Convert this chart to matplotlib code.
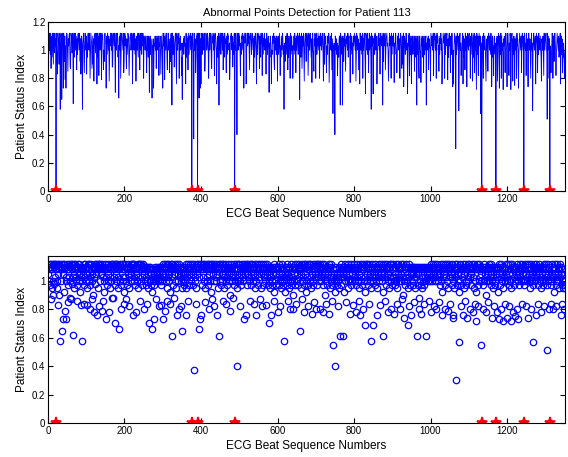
import numpy as np
import matplotlib
matplotlib.use("Agg")
import matplotlib.pyplot as plt
from matplotlib.ticker import FuncFormatter

# ---------------- data (status index in hundredths) ----------------
band_values = [
    105, 110, 100, 112, 108, 97, 112, 103, 110, 95, 108, 112, 100, 105, 112, 110, 98, 112, 103, 108, 110, 112, 100, 95, 110, 112, 105, 108, 90, 112, 110, 103, 100, 112, 108, 97, 110, 112, 105, 100, 112, 108, 92, 110, 112, 103, 108, 100, 112, 110,
    97, 112, 108, 103, 110, 112, 100, 105, 87, 112, 110, 108, 98, 112, 103, 110, 105, 112, 95, 108, 112, 100, 110, 103, 112, 108, 97, 110, 112, 105, 100, 112, 110, 92, 108, 112, 103, 110, 100, 112, 105, 108, 112, 97, 110, 103, 112, 108, 100, 110,
    112, 105, 95, 110, 112, 108, 100, 112, 103, 110, 97, 112, 108, 105, 112, 100, 110, 90, 108, 112, 103, 110, 112, 98, 105, 112, 110, 100, 108, 112, 95, 110, 103, 112, 108, 100, 112, 110, 105, 97, 112, 108, 110, 103, 112, 100, 92, 110, 112, 108,
    103, 112, 110, 97, 108, 112, 105, 100, 110, 112, 95, 108, 103, 112, 110, 100, 112, 105, 88, 110, 112, 108, 103, 112, 97, 110, 105, 112, 100, 108, 112, 110, 95, 103, 112, 108, 110, 100, 112, 105, 97, 110, 112, 108, 103, 100, 112, 110, 92, 108,
    112, 103, 110, 100, 112, 108, 97, 105, 112, 110, 103, 112, 95, 108, 110, 112, 100, 105, 112, 108, 90, 110, 112, 103, 100, 112, 110, 97, 108, 112, 105, 110, 100, 112, 103, 95, 112, 108, 110, 105, 112, 100, 108, 112, 97, 110, 103, 112, 108, 100,
    110, 105, 108, 100, 110, 103, 97, 108, 110, 100, 105, 95, 110, 108, 103, 100, 110, 97, 108, 105, 92, 110, 103, 100, 108, 110, 97, 105, 103, 110, 100, 108, 95, 105, 110, 103, 100, 108, 110, 88, 105, 103, 110, 100, 108, 97, 110, 105, 100, 108,
    112, 103, 110, 108, 97, 112, 105, 100, 110, 112, 95, 108, 103, 112, 110, 100, 105, 112, 108, 92, 110, 112, 103, 100, 112, 108, 97, 110, 105, 112, 100, 108, 112, 110, 95, 103, 112, 108, 100, 110, 105, 112, 97, 108, 103, 110, 100, 105, 108, 95,
    110, 105, 100, 108, 97, 110, 103, 105, 100, 108, 112, 95, 110, 103, 108, 100, 112, 105, 97, 110, 108, 112, 103, 100, 110, 87, 112, 108, 105, 97, 110, 112, 100, 103, 108, 112, 95, 110, 105, 112, 100, 108, 112, 103, 97, 110, 112, 105, 108, 100,
    112, 110, 97, 108, 112, 103, 100, 110, 112, 105, 95, 108, 112, 110, 100, 103, 112, 108, 97, 110, 105, 112, 100, 108, 112, 110, 92, 103, 112, 108, 105, 110, 100, 112, 97, 108, 110, 112, 103, 100, 112, 105, 110, 95, 108, 112, 103, 110, 100, 112,
    108, 97, 110, 112, 105, 100, 112, 108, 103, 110, 95, 112, 105, 108, 100, 112, 110, 97, 103, 112, 108, 110, 100, 105, 112, 90, 110, 108, 112, 103, 100, 110, 112, 105, 97, 108, 112, 110, 103, 100, 112, 108, 95, 110, 105, 112, 100, 108, 112, 103,
    110, 100, 112, 105, 97, 110, 108, 112, 103, 100, 110, 95, 112, 108, 105, 110, 112, 100, 97, 108, 112, 103, 110, 105, 112, 100, 92, 110, 108, 112, 103, 97, 110, 112, 105, 100, 108, 112, 110, 95, 103, 112, 108, 100, 110, 105, 112, 97, 108, 110,
    112, 103, 100, 110, 108, 95, 112, 105, 110, 100, 112, 97, 108, 103, 110, 112, 100, 105, 108, 88, 110, 112, 103, 97, 108, 110, 100, 112, 105, 95, 110, 108, 103, 112, 100, 97, 110, 105, 108, 112, 92, 103, 110, 100, 108, 105, 97, 110, 103, 100,
    108, 110, 97, 105, 112, 100, 108, 103, 95, 110, 105, 100, 112, 108, 97, 103, 110, 100, 105, 92, 108, 110, 103, 97, 112, 105, 100, 108, 95, 110, 103, 100, 108, 112, 97, 105, 110, 100, 103, 108, 90, 110, 105, 100, 112, 97, 108, 103, 110, 100,
    105, 112, 108, 97, 110, 103, 112, 100, 108, 110, 95, 105, 112, 108, 100, 110, 103, 112, 97, 108, 105, 110, 112, 100, 92, 108, 112, 103, 110, 105, 97, 112, 108, 100, 110, 112, 103, 95, 108, 110, 105, 112, 100, 97, 110, 108, 103, 112, 105, 100,
    110, 112, 97, 108, 103, 112, 105, 100, 110, 95, 108, 112, 103, 110, 100, 105, 112, 108, 97, 110, 103, 112, 90, 108, 105, 110, 100, 112, 103, 97, 110, 108, 105, 112, 100, 95, 108, 110, 103, 100, 112, 105, 97, 108, 110, 103, 100, 105, 92, 108,
    110, 103, 100, 108, 97, 105, 110, 100, 103, 95, 108, 110, 105, 100, 112, 97, 108, 103, 110, 100, 105, 108, 92, 110, 103, 112, 100, 97, 108, 105, 110, 103, 100, 112, 95, 108, 110, 105, 100, 103, 112, 97, 110, 108, 100, 105, 88, 110, 103, 108,
    112, 105, 100, 110, 108, 97, 112, 103, 110, 100, 108, 112, 95, 105, 110, 112, 103, 100, 108, 110, 97, 112, 105, 108, 100, 110, 112, 103, 92, 108, 112, 110, 100, 105, 112, 97, 108, 110, 103, 112, 100, 105, 110, 95, 108, 112, 103, 110, 100, 112,
    108, 105, 110, 97, 112, 103, 100, 110, 108, 112, 95, 105, 110, 103, 112, 100, 108, 97, 110, 112, 105, 103, 110, 100, 108, 112, 92, 110, 105, 103, 112, 100, 97, 108, 110, 112, 103, 105, 100, 110, 95, 108, 112, 103, 110, 100, 105, 112, 97, 108,
    110, 103, 112, 100, 108, 105, 97, 110, 112, 103, 100, 108, 95, 110, 105, 112, 100, 103, 108, 97, 110, 112, 105, 100, 108, 110, 103, 90, 112, 105, 100, 110, 108, 97, 103, 112, 110, 100, 105, 108, 95, 110, 103, 112, 100, 108, 97, 105, 110, 103,
    100, 108, 110, 97, 105, 103, 110, 100, 108, 95, 105, 110, 103, 100, 108, 97, 110, 105, 88, 103, 108, 110, 100, 97, 105, 108, 103, 110, 95, 100, 108, 105, 110, 97, 103, 100, 108, 110, 92, 105, 103, 108, 100, 110, 97, 105, 108, 103, 100, 110,
    112, 108, 103, 110, 100, 105, 112, 97, 110, 108, 112, 103, 100, 110, 95, 108, 112, 105, 110, 100, 103, 112, 108, 97, 110, 105, 112, 100, 108, 110, 92, 103, 112, 108, 105, 110, 100, 112, 97, 108, 103, 110, 112, 100, 105, 108, 95, 110, 112, 103,
    108, 100, 110, 105, 97, 112, 103, 108, 100, 110, 95, 105, 112, 108, 103, 100, 110, 97, 108, 112, 105, 100, 110, 103, 92, 108, 112, 100, 105, 110, 97, 103, 108, 112, 100, 110, 105, 95, 108, 103, 112, 100, 110, 97, 105, 108, 112, 103, 100, 110,
    112, 103, 108, 100, 110, 97, 105, 112, 108, 100, 103, 110, 95, 112, 105, 108, 100, 110, 92, 103, 112, 108, 97, 110, 105, 100, 112, 108, 103, 110, 95, 100, 105, 112, 108, 110, 97, 103, 112, 100, 108, 110, 105, 90, 112, 103, 108, 100, 110, 97,
    105, 112, 108, 100, 110, 103, 97, 112, 105, 108, 100, 110, 95, 103, 112, 108, 110, 100, 97, 105, 112, 108, 103, 110, 100, 92, 108, 112, 105, 100, 110, 97, 103, 112, 108, 110, 100, 105, 95, 112, 108, 103, 110, 100, 97, 108, 112, 105, 100, 110,
    103, 112, 108, 97, 110, 105, 100, 112, 108, 103, 95, 110, 112, 105, 100, 108, 97, 110, 103, 112, 108, 100, 105, 110, 92, 112, 103, 108, 100, 110, 97, 105, 112, 108, 103, 100, 110, 95, 108, 112, 105, 100, 110, 103, 97, 112, 108, 100, 105, 110,
    112, 103, 100, 108, 97, 110, 112, 105, 100, 108, 95, 110, 103, 112, 100, 105, 108, 97, 110, 112, 103, 100, 108, 110, 90, 105, 112, 108, 103, 100, 110, 97, 112, 105, 108, 100, 110, 103, 95, 112, 108, 105, 100, 110, 97, 103, 112, 108, 100, 105,
    110, 112, 103, 97, 108, 112, 100, 105, 110, 95, 108, 112, 103, 100, 110, 97, 105, 112, 108, 100, 103, 110, 92, 108, 112, 105, 100, 110, 97, 103, 112, 108, 105, 100, 110, 95, 108, 103, 112, 100, 105, 110, 97, 108, 103, 100, 95, 105, 97, 100,
    95, 100,
]

# deep dips (beat number, status in hundredths)
dip_beats = [25, 32, 36, 40, 45, 47, 66, 86, 90, 101, 110, 120, 128, 140, 152, 160, 176, 185, 190,
             221, 230, 250, 265, 272, 276, 290, 300, 305, 324, 336, 349, 351, 360, 381, 395, 398,
             400, 420, 441, 447, 475, 494, 512, 518, 545, 560, 578, 584, 600, 617, 640, 658, 670,
             690, 700, 720, 735, 745, 750, 764, 770, 790, 805, 815, 830, 845, 850, 860, 875, 890,
             905, 920, 930, 940, 950, 964, 975, 989, 1000, 1015, 1030, 1045, 1058, 1066, 1074,
             1085, 1095, 1110, 1120, 1131, 1145, 1160, 1180, 1190, 1200, 1210, 1220, 1230, 1255,
             1267, 1275, 1290, 1305, 1320, 1340, 1350]
dip_values = [83, 58, 65, 73, 79, 73, 62, 83, 58, 83, 80, 78, 76, 79, 73, 78, 70, 66, 80,
              76, 78, 80, 70, 66, 73, 82, 73, 79, 61, 76, 82, 65, 76, 37, 66, 73,
              76, 80, 76, 61, 79, 40, 73, 76, 76, 82, 70, 76, 78, 58, 80, 65, 78,
              77, 80, 78, 77, 55, 40, 61, 61, 77, 78, 76, 69, 58, 69, 76, 61, 78,
              77, 80, 74, 69, 76, 61, 77, 61, 78, 80, 76, 79, 74, 30, 57,
              76, 74, 78, 72, 55, 78, 74, 73, 72, 74, 72, 75, 73, 74,
              57, 76, 78, 51, 80, 76, 80]

# shallow dips (beat number, status in hundredths)
shallow_beats = [8, 14, 52, 58, 75, 95, 115, 133, 145, 168, 198, 205, 212, 240, 258, 283, 295, 312,
                 318, 330, 343, 366, 386, 410, 428, 435, 458, 466, 483, 503, 527, 538, 553, 570,
                 592, 607, 627, 633, 648, 664, 680, 695, 710, 728, 742, 757, 778, 797, 812, 823,
                 838, 868, 882, 897, 912, 925, 945, 958, 970, 982, 995, 1008, 1022, 1037, 1052,
                 1060, 1080, 1090, 1104, 1115, 1125, 1138, 1150, 1165, 1175, 1185, 1195, 1205,
                 1215, 1225, 1238, 1250, 1262, 1280, 1296, 1310, 1315, 1328, 1345]
shallow_values = [87, 90, 85, 88, 86, 84, 87, 82, 86, 88, 84, 87, 82, 86, 84, 87, 83, 86,
                  84, 88, 80, 86, 84, 85, 87, 82, 86, 84, 88, 82, 86, 84, 87, 83,
                  86, 82, 86, 80, 84, 87, 82, 85, 80, 84, 86, 82, 85, 83, 86, 80,
                  84, 83, 86, 80, 84, 87, 82, 85, 80, 84, 86, 82, 85, 80, 84,
                  76, 82, 86, 80, 84, 82, 80, 85, 82, 78, 80, 84, 82,
                  78, 80, 84, 82, 80, 84, 82, 80, 84, 82, 84]

# beats detected as abnormal (status index 0)
abnormal_beats = [21, 376, 391, 488, 1134, 1171, 1244, 1312]

title_text = "Abnormal Points Detection for Patient 113"
x_label = "ECG Beat Sequence Numbers"
y_label = "Patient Status Index"
x_ticks = [0, 200, 400, 600, 800, 1000, 1200]
y_ticks = [0, 0.2, 0.4, 0.6, 0.8, 1.0, 1.2]

# ---------------- assemble series ----------------
status = np.array(band_values, dtype=float) / 100.0
for b, v in zip(shallow_beats, shallow_values):
    status[b - 1] = v / 100.0
for b, v in zip(dip_beats, dip_values):
    status[b - 1] = v / 100.0
for b in abnormal_beats:
    status[b - 1] = 0.0
beats = np.arange(1, len(status) + 1)
abn = np.array(abnormal_beats)
abn_status = status[abn - 1]

# ---------------- plot ----------------
plt.rcParams['font.family'] = ['Liberation Sans', 'DejaVu Sans']
fig = plt.figure(figsize=(5.68, 4.57), dpi=100)
ax1 = fig.add_axes([0.0845, 0.582, 0.9105, 0.370])
ax2 = fig.add_axes([0.0845, 0.0744, 0.9105, 0.3656])

blue = '#0000ff'
ax1.plot(beats, status, color=blue, lw=0.6)
ax1.plot(abn, abn_status, '*', color='red', ms=8, mew=1.2)

ax2.plot(beats, status, 'o', mfc='none', mec=blue, ms=4.6, mew=0.9)
ax2.plot(abn, abn_status, '*', color='red', ms=8, mew=1.2)

fmt = FuncFormatter(lambda v, p: f"{v:g}")
for ax in (ax1, ax2):
    ax.set_xlim(0, len(status))
    ax.set_xticks(x_ticks)
    ax.set_yticks(y_ticks)
    ax.yaxis.set_major_formatter(fmt)
    ax.tick_params(direction='in', top=True, right=True, length=3.5, width=0.8,
                   labelsize=7, pad=2)
    ax.set_xlabel(x_label, fontsize=8.5, labelpad=3)
    ax.set_ylabel(y_label, fontsize=8.5, labelpad=3)
    for s in ax.spines.values():
        s.set_linewidth(0.8)

ax1.set_ylim(0, 1.2)
ax2.set_ylim(0, 1.175)
ax1.set_title(title_text, fontsize=8, pad=4)

fig.savefig("out.png", dpi=100)
